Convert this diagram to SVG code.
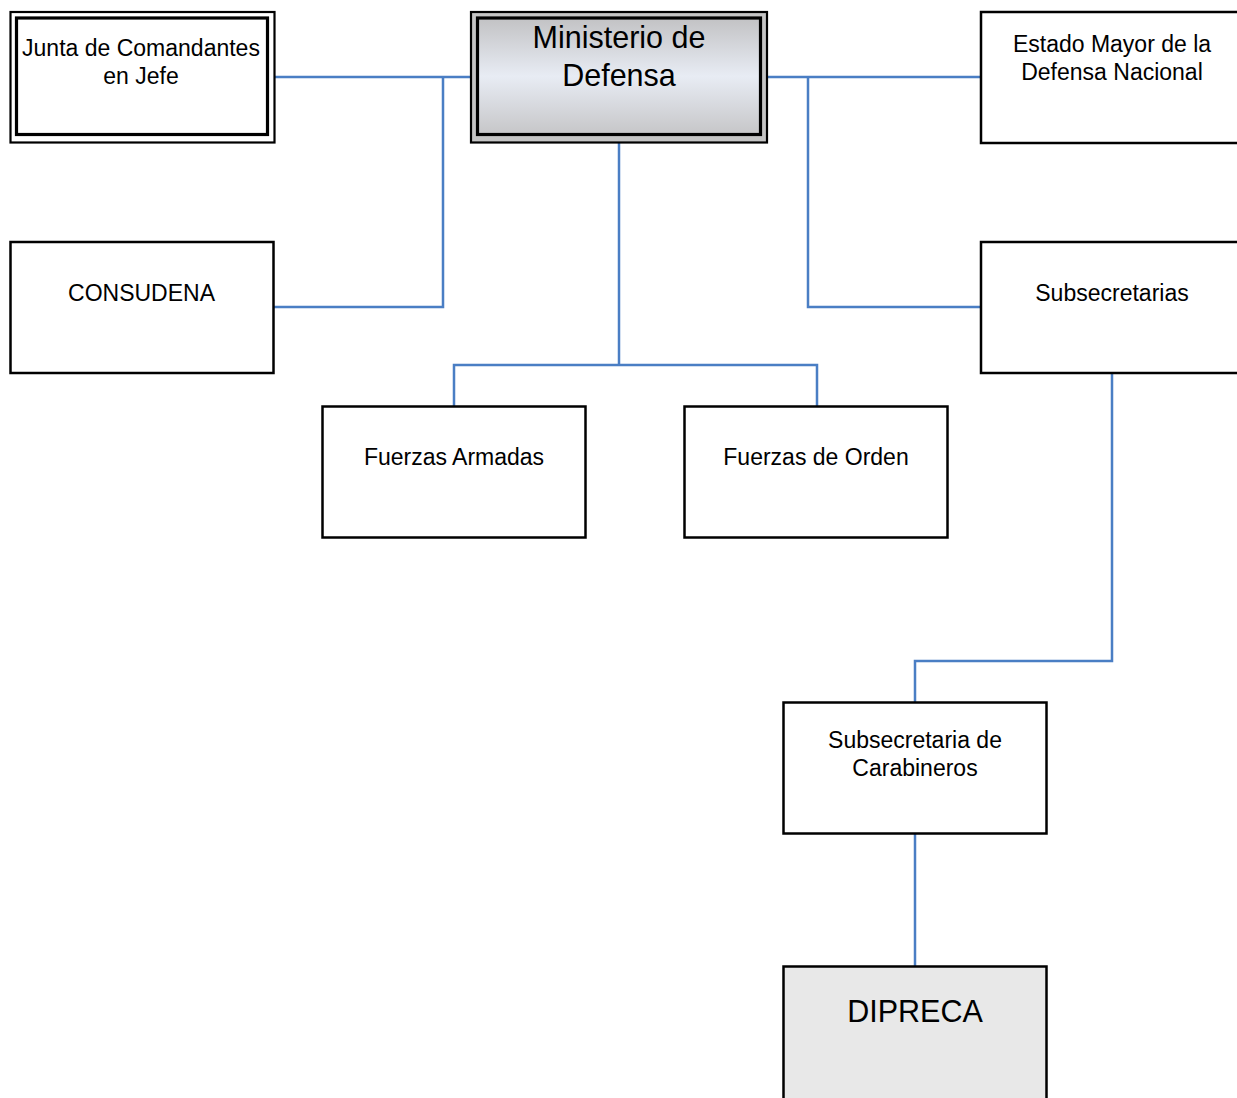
<svg xmlns="http://www.w3.org/2000/svg" width="1237" height="1098" viewBox="0 0 1237 1098">
<defs>
<linearGradient id="mg" x1="0" y1="0" x2="0" y2="1">
<stop offset="0" stop-color="#c2c2c4"/>
<stop offset="0.5" stop-color="#e8ecf4"/>
<stop offset="1" stop-color="#c6c6c8"/>
</linearGradient>
<style>
.box{fill:#ffffff;stroke:#000000;stroke-width:2.5}
.thin{stroke:#000000;stroke-width:2.2}
.thick{fill:none;stroke:#000000;stroke-width:3.2}
.t{font-family:"Liberation Sans",Arial,sans-serif;font-size:23px;fill:#000000;text-anchor:middle}
.big{font-size:30.5px}
.conn{fill:none;stroke:#4a7ec4;stroke-width:2.5}
</style>
</defs>
<rect width="1237" height="1098" fill="#ffffff"/>
<g id="connectors">
<polyline class="conn" points="274,77 470,77"/>
<polyline class="conn" points="443,77 443,307 274,307"/>
<polyline class="conn" points="768,77 980,77"/>
<polyline class="conn" points="808,77 808,307 980,307"/>
<polyline class="conn" points="619,143 619,365"/>
<polyline class="conn" points="454,406 454,365 817,365 817,406"/>
<polyline class="conn" points="1112,373 1112,661 915,661 915,702"/>
<polyline class="conn" points="915,834 915,966"/>
</g>
<g id="junta">
<rect x="10.5" y="12" width="264" height="130.5" fill="#ffffff" class="thin"/>
<rect x="16.5" y="18" width="251" height="116.5" class="thick"/>
<text class="t" x="141" y="56">Junta de Comandantes</text>
<text class="t" x="141" y="84">en Jefe</text>
</g>
<g id="ministerio">
<rect x="471" y="12" width="296" height="130.5" fill="#c4c4c4" class="thin"/>
<rect x="477.5" y="18" width="283" height="116.5" fill="url(#mg)" stroke="#000" stroke-width="3.2"/>
<text class="t big" x="619" y="48">Ministerio de</text>
<text class="t big" x="619" y="86">Defensa</text>
</g>
<g id="estado-mayor">
<rect class="box" x="981" y="12" width="264" height="131"/>
<text class="t" x="1112" y="51.5">Estado Mayor de la</text>
<text class="t" x="1112" y="79.5">Defensa Nacional</text>
</g>
<g id="consudena">
<rect class="box" x="10.5" y="242" width="263" height="131"/>
<text class="t" x="141.5" y="301">CONSUDENA</text>
</g>
<g id="subsecretarias">
<rect class="box" x="981" y="242" width="264" height="131"/>
<text class="t" x="1112" y="301">Subsecretarias</text>
</g>
<g id="fuerzas-armadas">
<rect class="box" x="322.5" y="406.5" width="263" height="131"/>
<text class="t" x="454" y="465">Fuerzas Armadas</text>
</g>
<g id="fuerzas-orden">
<rect class="box" x="684.5" y="406.5" width="263" height="131"/>
<text class="t" x="816" y="465">Fuerzas de Orden</text>
</g>
<g id="subsecretaria-carabineros">
<rect class="box" x="783.5" y="702.5" width="263" height="131"/>
<text class="t" x="915" y="748">Subsecretaria de</text>
<text class="t" x="915" y="776">Carabineros</text>
</g>
<g id="dipreca">
<rect class="box" x="783.5" y="966.5" width="263" height="133" style="fill:#e8e8e8"/>
<text class="t big" x="915" y="1022">DIPRECA</text>
</g>
</svg>
